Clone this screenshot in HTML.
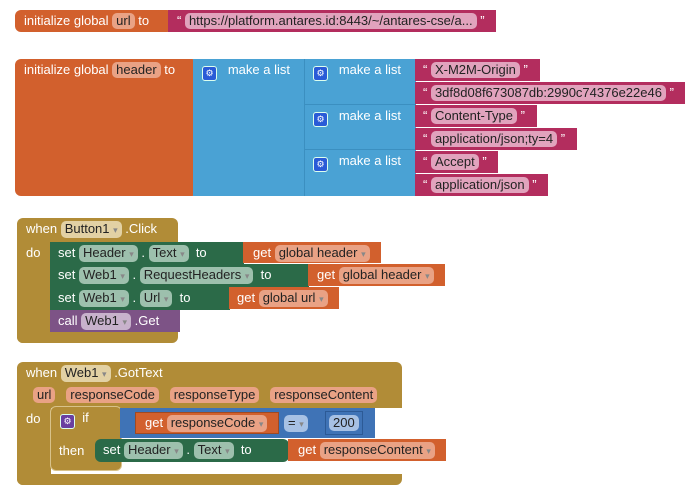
<!DOCTYPE html><html><head><style>
body{margin:0;width:689px;height:492px;background:#fff;position:relative;overflow:hidden;font-family:"Liberation Sans",Arial,sans-serif;font-size:13px;color:#fff}
.b{position:absolute;box-sizing:border-box}
.t{position:absolute;white-space:nowrap;line-height:17px}
.c{display:inline-block;border-radius:5px;padding:0 4px;line-height:16px;color:#222}
.o{background:#d2602d}.oc{background:#e9a285}
.p{background:#b32d5e}.pc{background:#e1a3bd}
.bl{background:#4aa2d4}.g{background:#2b6a48}.gc{background:#9dc0ad}
.m{background:#b18c37}.mc{background:#e2d1a4}
.pu{background:#7d5386}.puc{background:#c8b2cc}
.cb{background:#3f73b6}.cbc{background:#a7c1e4}
.gear{display:inline-block;width:13px;height:13px;border-radius:3px;background:#2a5bd7;border:1px solid #dfe;vertical-align:-2px;text-align:center;font-size:9px;line-height:13px;color:#fff}
.dd{color:#888;font-size:9px}
</style></head><body>
<div class="b o" style="left:15px;top:10px;width:158px;height:22px;border-radius:6px"></div>
<div class="t" style="left:24px;top:12px">initialize global <span class="c oc">url</span> to</div>
<div class="b p" style="left:168px;top:10px;width:328px;height:22px"></div>
<div class="t" style="left:177px;top:12px">“ <span class="c pc">https://platform.antares.id:8443/~/antares-cse/a...</span> ”</div>
<div class="b o" style="left:15px;top:59px;width:183px;height:137px;border-radius:6px"></div>
<div class="t" style="left:24px;top:61px">initialize global <span class="c oc">header</span> to</div>
<div class="b bl" style="left:193px;top:59px;width:112px;height:137px;border-right:1px solid #3b8fc0"></div>
<div class="t" style="left:202px;top:61px"><span class="gear">⚙</span>&nbsp;&nbsp; make a list</div>
<div class="b bl" style="left:305px;top:59px;width:111px;height:46px;border-bottom:1px solid #3b8fc0"></div>
<div class="b bl" style="left:305px;top:105px;width:111px;height:45px;border-bottom:1px solid #3b8fc0"></div>
<div class="b bl" style="left:305px;top:150px;width:111px;height:46px"></div>
<div class="t" style="left:313px;top:61px"><span class="gear">⚙</span>&nbsp;&nbsp; make a list</div>
<div class="t" style="left:313px;top:107px"><span class="gear">⚙</span>&nbsp;&nbsp; make a list</div>
<div class="t" style="left:313px;top:152px"><span class="gear">⚙</span>&nbsp;&nbsp; make a list</div>
<div class="b p" style="left:415px;top:59px;width:125px;height:22px"></div>
<div class="t" style="left:423px;top:61px">“ <span class="c pc">X-M2M-Origin</span> ”</div>
<div class="b p" style="left:415px;top:82px;width:270px;height:22px"></div>
<div class="t" style="left:423px;top:84px">“ <span class="c pc">3df8d08f673087db:2990c74376e22e46</span> ”</div>
<div class="b p" style="left:415px;top:105px;width:122px;height:22px"></div>
<div class="t" style="left:423px;top:107px">“ <span class="c pc">Content-Type</span> ”</div>
<div class="b p" style="left:415px;top:128px;width:162px;height:22px"></div>
<div class="t" style="left:423px;top:130px">“ <span class="c pc">application/json;ty=4</span> ”</div>
<div class="b p" style="left:415px;top:151px;width:83px;height:22px"></div>
<div class="t" style="left:423px;top:153px">“ <span class="c pc">Accept</span> ”</div>
<div class="b p" style="left:415px;top:174px;width:133px;height:22px"></div>
<div class="t" style="left:423px;top:176px">“ <span class="c pc">application/json</span> ”</div>
<div class="b m" style="left:17px;top:218px;width:161px;height:24px;border-radius:6px 6px 0 0"></div>
<div class="b m" style="left:17px;top:240px;width:34px;height:103px;border-radius:0 0 0 6px"></div>
<div class="b m" style="left:17px;top:331px;width:161px;height:12px;border-radius:0 0 6px 6px"></div>
<div class="t" style="left:26px;top:220px">when <span class="c mc">Button1 <span class="dd">▾</span></span> .Click</div>
<div class="t" style="left:26px;top:244px">do</div>
<div class="b g" style="left:50px;top:242px;width:194px;height:22px"></div>
<div class="t" style="left:58px;top:244px">set <span class="c gc">Header <span class="dd">▾</span></span> . <span class="c gc">Text <span class="dd">▾</span></span> &nbsp;to</div>
<div class="b o" style="left:243px;top:242px;width:138px;height:21px"></div>
<div class="t" style="left:253px;top:244px">get <span class="c oc">global header <span class="dd">▾</span></span></div>
<div class="b g" style="left:50px;top:264px;width:259px;height:23px"></div>
<div class="t" style="left:58px;top:266px">set <span class="c gc">Web1 <span class="dd">▾</span></span> . <span class="c gc">RequestHeaders <span class="dd">▾</span></span> &nbsp;to</div>
<div class="b o" style="left:308px;top:264px;width:137px;height:22px"></div>
<div class="t" style="left:317px;top:266px">get <span class="c oc">global header <span class="dd">▾</span></span></div>
<div class="b g" style="left:50px;top:287px;width:180px;height:23px"></div>
<div class="t" style="left:58px;top:289px">set <span class="c gc">Web1 <span class="dd">▾</span></span> . <span class="c gc">Url <span class="dd">▾</span></span> &nbsp;to</div>
<div class="b o" style="left:229px;top:287px;width:110px;height:22px"></div>
<div class="t" style="left:237px;top:289px">get <span class="c oc">global url <span class="dd">▾</span></span></div>
<div class="b pu" style="left:50px;top:310px;width:130px;height:22px"></div>
<div class="t" style="left:58px;top:312px">call <span class="c puc">Web1 <span class="dd">▾</span></span> .Get</div>
<div class="b m" style="left:17px;top:362px;width:385px;height:46px;border-radius:6px 6px 0 0"></div>
<div class="b m" style="left:17px;top:405px;width:34px;height:80px;border-radius:0 0 0 6px"></div>
<div class="b m" style="left:17px;top:474px;width:385px;height:11px;border-radius:0 0 6px 6px"></div>
<div class="t" style="left:26px;top:364px">when <span class="c mc">Web1 <span class="dd">▾</span></span> .GotText</div>
<div class="t" style="left:33px;top:386px"><span class="c oc">url</span>&nbsp;&nbsp; <span class="c oc">responseCode</span>&nbsp;&nbsp; <span class="c oc">responseType</span>&nbsp;&nbsp; <span class="c oc">responseContent</span></div>
<div class="t" style="left:26px;top:410px">do</div>
<div class="b m" style="left:50px;top:406px;width:72px;height:65px;border:1px solid #d8c28a;border-radius:6px"></div>
<div class="t" style="left:60px;top:409px"><span class="gear" style="background:#6a3fa0">⚙</span>&nbsp; if</div>
<div class="t" style="left:59px;top:442px">then</div>
<div class="b cb" style="left:120px;top:408px;width:255px;height:30px"></div>
<div class="b o" style="left:135px;top:412px;width:144px;height:22px;border:1px solid #a04a22"></div>
<div class="t" style="left:145px;top:414px">get <span class="c oc">responseCode <span class="dd">▾</span></span></div>
<div class="t" style="left:284px;top:414px"><span class="c cbc">= <span class="dd">▾</span></span></div>
<div class="b" style="left:325px;top:411px;width:38px;height:24px;border:1px solid #2c5a96"></div>
<div class="t" style="left:329px;top:414px"><span class="c cbc">200</span></div>
<div class="b g" style="left:95px;top:439px;width:194px;height:23px;border-radius:6px"></div>
<div class="t" style="left:103px;top:441px">set <span class="c gc">Header <span class="dd">▾</span></span> . <span class="c gc">Text <span class="dd">▾</span></span> &nbsp;to</div>
<div class="b o" style="left:288px;top:439px;width:158px;height:22px"></div>
<div class="t" style="left:298px;top:441px">get <span class="c oc">responseContent <span class="dd">▾</span></span></div>
</body></html>
